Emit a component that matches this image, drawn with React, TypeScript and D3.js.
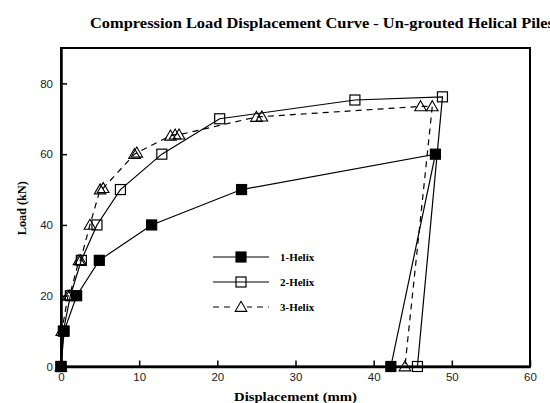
import React, { useEffect, useRef } from "react";
import * as d3 from "d3";

// values
const helix1X = [0, 0.4, 2.0, 4.9, 11.6, 23.1, 47.9, 42.2];
const helix1Y = [0, 10, 20, 30, 40, 50, 60, 0];
const helix2X = [0, 0.3, 1.2, 2.6, 4.6, 7.6, 12.9, 20.3, 37.6, 48.8, 45.6];
const helix2Y = [0, 10, 20, 30, 40, 50, 60, 70, 75.3, 76.2, 0];
const helix3X = [0, 0.1, 0.9, 1.1, 2.3, 2.5, 3.7, 5.0, 5.4, 9.4, 9.7, 14.0, 14.6, 15.1, 25.0, 25.7, 46.0, 47.5, 44.0];
const helix3Y = [0, 10, 20, 20, 30, 30, 40, 50, 50.4, 60, 60.4, 65.2, 65.5, 65.5, 70.5, 70.6, 73.5, 73.5, 0];
const seriesNames = ["1-Helix", "2-Helix", "3-Helix"];
const xTicks = [0, 10, 20, 30, 40, 50, 60];
const yTicks = [0, 20, 40, 60, 80];

const serif = "'Liberation Serif', 'Times New Roman', serif";
const sans = "'Liberation Sans', Arial, sans-serif";

const App = () => {
  const ref = useRef<SVGSVGElement>(null);

  useEffect(() => {
    const svg = d3.select(ref.current);
    svg.selectAll("*").remove();

    const margin = { top: 48, left: 61, right: 20, bottom: 36.5 };
    const W = 550, H = 403;
    const w = W - margin.left - margin.right;
    const h = H - margin.top - margin.bottom;

    const x = d3.scaleLinear().domain([0, 60]).range([0, w]);
    const y = d3.scaleLinear().domain([0, 90]).range([h, 0]);

    svg.append("text")
      .attr("x", 90)
      .attr("y", 28)
      .attr("font-family", serif)
      .attr("font-weight", "bold")
      .attr("font-size", 15)
      .attr("textLength", 464)
      .attr("lengthAdjust", "spacingAndGlyphs")
      .text("Compression Load Displacement Curve - Un-grouted Helical Piles");

    const g = svg.append("g").attr("transform", `translate(${margin.left},${margin.top})`);

    g.append("rect")
      .attr("width", w).attr("height", h)
      .attr("fill", "none").attr("stroke", "#000").attr("stroke-width", 2);

    const xAxis = g.append("g")
      .attr("transform", `translate(0,${h})`)
      .call(d3.axisBottom(x).tickValues(xTicks).tickSizeInner(-6).tickSizeOuter(0).tickPadding(6));
    const yAxis = g.append("g")
      .call(d3.axisLeft(y).tickValues(yTicks).tickSizeInner(-6).tickSizeOuter(0).tickPadding(8));

    [xAxis, yAxis].forEach(a => {
      a.select(".domain").attr("stroke-width", 2.5);
      a.selectAll(".tick line").attr("stroke-width", 1.5);
      a.selectAll("text").attr("font-family", sans).attr("font-size", 11.5).attr("fill", "#222");
    });

    const series = [
      { xs: helix1X, ys: helix1Y, dash: null, marker: "filled" },
      { xs: helix2X, ys: helix2Y, dash: null, marker: "open" },
      { xs: helix3X, ys: helix3Y, dash: "6,5", marker: "tri" },
    ];

    const line = d3.line<[number, number]>().x(d => x(d[0])).y(d => y(d[1]));
    const tri = d3.symbol().type(d3.symbolTriangle).size(58);

    const drawMarker = (sel: any, kind: string, cx: number, cy: number) => {
      if (kind === "tri") {
        sel.append("path")
          .attr("d", tri())
          .attr("transform", `translate(${cx},${cy + 1})`)
          .attr("fill", "none").attr("stroke", "#000").attr("stroke-width", 1.1);
      } else {
        sel.append("rect")
          .attr("x", cx - 5).attr("y", cy - 5)
          .attr("width", 10).attr("height", 10)
          .attr("fill", kind === "filled" ? "#000" : "none")
          .attr("stroke", "#000").attr("stroke-width", 1.2);
      }
    };

    series.forEach(s => {
      const pts = s.xs.map((v, i) => [v, s.ys[i]] as [number, number]);
      g.append("path")
        .attr("d", line(pts))
        .attr("fill", "none")
        .attr("stroke", "#000")
        .attr("stroke-width", 1.2)
        .attr("stroke-dasharray", s.dash);
      const mg = g.append("g");
      pts.forEach(p => drawMarker(mg, s.marker, x(p[0]), y(p[1])));
    });

    // legend
    const lg = svg.append("g");
    series.forEach((s, i) => {
      const ly = 257 + i * 25;
      lg.append("line")
        .attr("x1", 213).attr("x2", 269).attr("y1", ly).attr("y2", ly)
        .attr("stroke", "#000").attr("stroke-width", 1.2)
        .attr("stroke-dasharray", s.dash);
      if (s.marker === "tri") {
        lg.append("rect").attr("x", 235).attr("y", ly - 6).attr("width", 12).attr("height", 11).attr("fill", "#fff");
      }
      drawMarker(lg, s.marker, 241, ly);
      lg.append("text")
        .attr("x", 280).attr("y", ly + 4)
        .attr("font-family", serif).attr("font-weight", "bold").attr("font-size", 11)
        .text(seriesNames[i]);
    });

    svg.append("text")
      .attr("x", margin.left + w / 2)
      .attr("y", 401)
      .attr("text-anchor", "middle")
      .attr("font-family", serif).attr("font-weight", "bold").attr("font-size", 13.5)
      .attr("textLength", 123)
      .attr("lengthAdjust", "spacingAndGlyphs")
      .text("Displacement (mm)");

    svg.append("text")
      .attr("transform", `translate(26,${margin.top + h / 2 + 1}) rotate(-90)`)
      .attr("text-anchor", "middle")
      .attr("font-family", serif).attr("font-weight", "bold").attr("font-size", 13.5)
      .attr("textLength", 54)
      .attr("lengthAdjust", "spacingAndGlyphs")
      .text("Load (kN)");
  }, []);

  return <svg ref={ref} width={550} height={403} style={{ position: "absolute", left: 0, top: 0, background: "#fff" }} />;
};

export default App;
